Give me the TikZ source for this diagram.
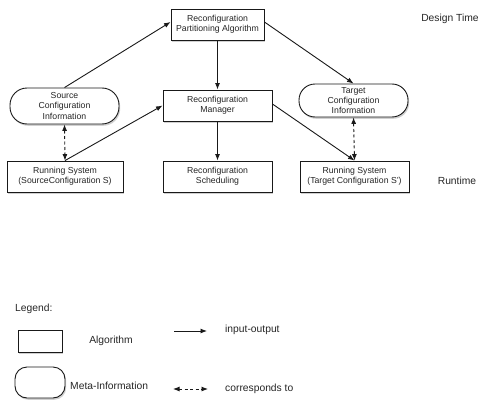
\documentclass[tikz,border=0pt]{standalone}
\usepackage{fontspec}
\setmainfont{Liberation Sans}
\usetikzlibrary{arrows.meta,shadows}
\begin{document}
\begin{tikzpicture}[x=1pt,y=-1pt,
  every node/.style={text=black!85},
  shad/.style={drop shadow={shadow xshift=1.2pt,shadow yshift=-1.8pt,opacity=0.3,fill=black!60}},
  algo/.style={draw=black!90,line width=0.9pt,fill=white,shad,align=center,inner sep=0pt,
    font=\fontsize{8.7}{10.3}\selectfont,minimum width=109pt,minimum height=31pt},
  meta/.style={algo,rounded corners=17pt},
  lbl/.style={font=\fontsize{10.3}{12}\selectfont,inner sep=0pt},
  io/.style={line width=0.9pt,draw=black!90,-{Latex[length=6.5pt,width=5pt]}},
  corr/.style={line width=0.9pt,draw=black!90,dashed,dash pattern=on 3pt off 2.5pt,{Latex[length=6.5pt,width=5pt]}-{Latex[length=6.5pt,width=5pt]}}
]
\useasboundingbox[fill=white] (0,0) rectangle (489,404);

\node[algo,minimum width=93pt] (pa) at (217.5,24.5) {Reconfiguration\\Partitioning Algorithm};
\node[meta,minimum height=36pt] (src) at (64.5,106) {Source\\Configuration\\Information};
\node[algo] (mgr) at (217.5,105.5) {Reconfiguration\\Manager};
\node[meta,minimum height=33pt,rounded corners=16pt] (tgt) at (353.5,100.5) {Target\\Configuration\\Information};
\node[algo,minimum width=116pt] (rs) at (65,176.5) {Running System\\(SourceConfiguration S)};
\node[algo] (sch) at (217.5,176.5) {Reconfiguration\\Scheduling};
\node[algo] (rs2) at (354.5,176.5) {Running System\\(Target Configuration S')};

\node[lbl] (dt) at (450,19) {Design Time};
\node[lbl] (rt) at (457,181) {Runtime};

\draw[io] (src.north) -- ([yshift=2.5pt]pa.west);
\draw[io] ([yshift=2.5pt]pa.east) -- (tgt.north);
\draw[io] (pa.south) -- (mgr.north);
\draw[io] (rs.north) -- (mgr.west);
\draw[io] ([yshift=1.5pt]mgr.east) -- (rs2.north);
\draw[io] (mgr.south) -- (sch.north);
\draw[corr] (src.south) -- (rs.north);
\draw[corr] (tgt.south) -- (rs2.north);

% legend
\node[lbl,anchor=west] (leg) at (15,309) {Legend:};
\node[algo,minimum width=44pt,minimum height=22pt] (lalg) at (40,341) {};
\node[meta,minimum width=50pt,minimum height=31pt,rounded corners=12pt] (lmeta) at (40,382.5) {};
\node[lbl] (talg) at (111,341) {Algorithm};
\node[lbl,anchor=west] (tmeta) at (70,386) {Meta-Information};
\coordinate (a1) at (174,331);
\coordinate (a2) at (207,331);
\coordinate (b1) at (173,389);
\coordinate (b2) at (208,389);
\draw[io] (a1) -- (a2);
\draw[corr] (b1) -- (b2);
\node[lbl,anchor=west] (tio) at (225,330) {input-output};
\node[lbl,anchor=west] (tcorr) at (225,389) {corresponds to};
\end{tikzpicture}
\end{document}
